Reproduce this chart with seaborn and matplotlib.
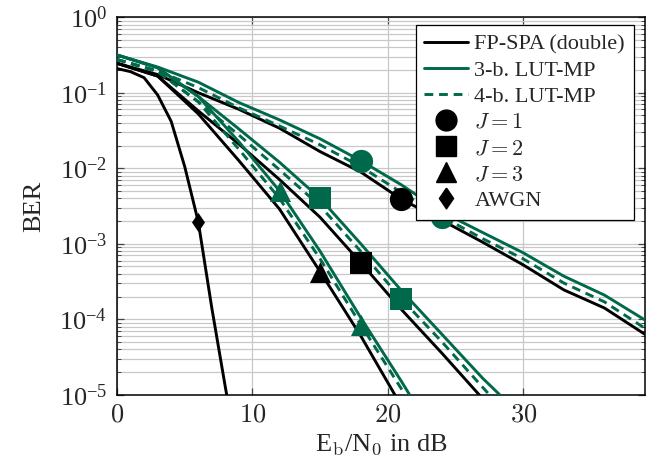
import numpy as np
import pandas as pd
import matplotlib
matplotlib.use("Agg")
import matplotlib.pyplot as plt
from matplotlib.lines import Line2D
from matplotlib.ticker import LogLocator, NullFormatter, FixedLocator
import seaborn as sns

# ---------------- data ----------------
EBN0 = [0, 3, 6, 9, 12, 15, 18, 21, 24, 27, 30, 33, 36, 39]
EBN0_AWGN = [0, 1, 2, 3, 4, 5, 6, 7, 8, 9]

FP_J1 = [0.245, 0.174, 0.100, 0.0603, 0.0339, 0.0166, 0.00891, 0.00389,
         0.00204, 0.00105, 0.000525, 0.000245, 0.000141, 0.0000631]
LUT3_J1 = [0.316, 0.219, 0.138, 0.0741, 0.0437, 0.0245, 0.0126, 0.00603,
           0.00263, 0.00141, 0.000759, 0.000372, 0.000209, 0.0000977]
LUT4_J1 = [0.275, 0.195, 0.117, 0.0631, 0.0363, 0.0204, 0.0105, 0.00479,
           0.00229, 0.00117, 0.000631, 0.000302, 0.000170, 0.0000759]

FP_J2 = [0.245, 0.166, 0.0575, 0.0209, 0.00708, 0.00224, 0.000562, 0.000135,
         0.0000355, 0.0000089]
LUT3_J2 = [0.316, 0.214, 0.0891, 0.0331, 0.0120, 0.00398, 0.00100, 0.000240,
           0.0000631, 0.0000166, 0.0000050]
LUT4_J2 = [0.275, 0.191, 0.0759, 0.0275, 0.00955, 0.00316, 0.000794, 0.000186,
           0.0000501, 0.0000126, 0.0000032]

FP_J3 = [0.245, 0.166, 0.0525, 0.0126, 0.00288, 0.000427, 0.0000603, 0.0000071]
LUT3_J3 = [0.316, 0.214, 0.0891, 0.0224, 0.00501, 0.000794, 0.000105,
           0.0000151, 0.0000020]
LUT4_J3 = [0.275, 0.191, 0.0759, 0.0178, 0.00398, 0.000631, 0.0000851,
           0.0000120, 0.0000016]

AWGN = [0.209, 0.190, 0.158, 0.0933, 0.0417, 0.0105, 0.00195, 0.000141,
        0.0000126, 0.00000126]

# x position (dB) where each curve carries its marker
MARK_AT = {
    "FP_J1": 21, "LUT3_J1": 18, "LUT4_J1": 24,
    "FP_J2": 18, "LUT3_J2": 15, "LUT4_J2": 21,
    "FP_J3": 15, "LUT3_J3": 12, "LUT4_J3": 18,
    "AWGN": 6,
}

LEGEND_LINES = ["FP-SPA (double)", "3-b. LUT-MP", "4-b. LUT-MP"]
LEGEND_MARKS = ["$J=1$", "$J=2$", "$J=3$", "AWGN"]
XTICKS = [0, 10, 20, 30]

# ---------------- style ----------------
sns.set_style("ticks")
plt.rcParams["font.family"] = ["Liberation Serif", "DejaVu Serif"]
plt.rcParams["mathtext.fontset"] = "cm"

GREEN = "#00694B"
BLACK = "black"
LW = 2.1
DASH = (3.0, 2.0)
DIAMOND = [(0, 1), (0.68, 0), (0, -1), (-0.68, 0), (0, 1)]

fig = plt.figure(figsize=(6.65, 4.65), dpi=100)
ax = fig.add_axes([0.176, 0.151, 0.794, 0.812])

series = [
    ("FP_J1", EBN0, FP_J1, BLACK, "-", "o"),
    ("LUT3_J1", EBN0, LUT3_J1, GREEN, "-", "o"),
    ("LUT4_J1", EBN0, LUT4_J1, GREEN, "--", "o"),
    ("FP_J2", EBN0, FP_J2, BLACK, "-", "s"),
    ("LUT3_J2", EBN0, LUT3_J2, GREEN, "-", "s"),
    ("LUT4_J2", EBN0, LUT4_J2, GREEN, "--", "s"),
    ("FP_J3", EBN0, FP_J3, BLACK, "-", "^"),
    ("LUT3_J3", EBN0, LUT3_J3, GREEN, "-", "^"),
    ("LUT4_J3", EBN0, LUT4_J3, GREEN, "--", "^"),
    ("AWGN", EBN0_AWGN, AWGN, BLACK, "-", DIAMOND),
]

msize = {"o": 280, "s": 260, "^": 230}
for name, xs, ys, col, ls, mk in series:
    df = pd.DataFrame({"x": xs[:len(ys)], "y": ys})
    sns.lineplot(data=df, x="x", y="y", color=col, lw=LW, ax=ax,
                 sort=False, estimator=None, zorder=3)
    l = ax.lines[-1]
    if ls == "--":
        l.set_dashes(DASH)
    mx = MARK_AT[name]
    mdf = df[df["x"] == mx]
    size = msize.get(mk, 260) if isinstance(mk, str) else 190
    sns.scatterplot(data=mdf, x="x", y="y", marker=mk, s=size, color=col,
                    edgecolor=col, linewidth=0, ax=ax, zorder=4, legend=False)

ax.set_yscale("log")
ax.set_xlim(0, 39)
ax.set_ylim(1e-5, 1)

ax.xaxis.set_major_locator(FixedLocator(XTICKS))
ax.set_xticklabels([f"${t}$" for t in XTICKS])
ax.yaxis.set_major_locator(LogLocator(base=10, numticks=10))
ax.yaxis.set_minor_locator(LogLocator(base=10, subs=np.arange(2, 10), numticks=50))
ax.yaxis.set_minor_formatter(NullFormatter())

ax.grid(True, which="major", color="#c8c8c8", lw=0.9, zorder=0)
ax.grid(True, which="minor", axis="y", color="#c8c8c8", lw=0.9, zorder=0)
ax.set_axisbelow(True)

ax.tick_params(which="both", direction="in", top=True, right=True,
               labelsize=19, color="#444444")
ax.tick_params(which="major", length=5, width=0.9, pad=7)
ax.tick_params(which="minor", length=3, width=0.7)
for sp in ax.spines.values():
    sp.set_linewidth(1.1)
    sp.set_color("black")

ax.set_xlabel(r"E$_\mathrm{b}$/N$_0$ in dB", fontsize=19, labelpad=4)
ax.set_ylabel("BER", fontsize=19, labelpad=10)

handles = [
    Line2D([], [], color=BLACK, lw=LW),
    Line2D([], [], color=GREEN, lw=LW),
    Line2D([], [], color=GREEN, lw=LW, dashes=DASH),
    Line2D([], [], color=BLACK, lw=0, marker="o", markersize=15),
    Line2D([], [], color=BLACK, lw=0, marker="s", markersize=14),
    Line2D([], [], color=BLACK, lw=0, marker="^", markersize=14),
    Line2D([], [], color=BLACK, lw=0, marker=DIAMOND, markersize=15),
]
leg = ax.legend(handles, LEGEND_LINES + LEGEND_MARKS, loc="upper right",
                bbox_to_anchor=(0.979, 0.979), borderaxespad=0,
                fontsize=16, frameon=True, fancybox=False, framealpha=1,
                edgecolor="black", handlelength=1.95,
                handletextpad=0.3, labelspacing=0.25, borderpad=0.4)
leg.get_frame().set_linewidth(0.9)

fig.savefig("out.png", dpi=100)
